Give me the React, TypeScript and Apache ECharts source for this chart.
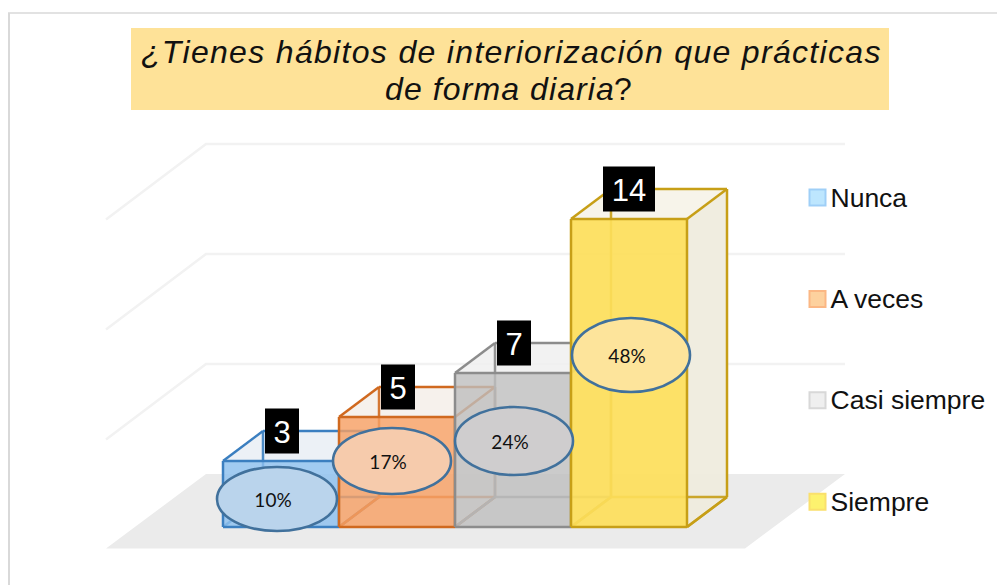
import React, { useEffect, useRef } from "react";
import * as echarts from "echarts";

const categories = ["Nunca", "A veces", "Casi siempre", "Siempre"];
const counts = [3, 5, 7, 14];
const percents = ["10%", "17%", "24%", "48%"];
const yTicks = [0, 5, 10, 15];

const frontFill = ["rgba(140,192,238,0.82)", "rgba(247,160,100,0.82)", "rgba(190,190,190,0.8)", "rgba(253,222,90,0.92)"];
const edge = ["#3b7fc0", "#d0691f", "#8c8c8c", "#c79f17"];
const paleFill = ["rgba(233,239,245,0.85)", "rgba(244,238,233,0.85)", "rgba(240,240,240,0.85)", "rgba(246,243,232,0.92)"];
const sideFill = ["rgba(230,236,242,0.7)", "rgba(240,232,225,0.7)", "rgba(236,236,236,0.7)", "rgba(239,236,222,0.95)"];
const legendFill = ["#bde6fe", "#fdd19e", "#efefef", "#fdf26e"];
const legendEdge = ["#9fcff7", "#fbb784", "#d8d8d8", "#fae06c"];
const ovalFill = ["#bad4ec", "#f6cbac", "#cfcdce", "#fde49b"];

const ovalOffset = [[-4, 38, 60, 32], [-5, 44, 59, 33], [1, 68, 59, 34], [2, 136, 59, 37]];
const DEPTH_X = 40;
const DEPTH_Y = -30;

const renderBar = (idx: number) => (_: any, api: any) => {
  const top = api.coord([api.value(0), api.value(1)]);
  const base = api.coord([api.value(0), 0]);
  const w = api.size([1, 0])[0];
  const x0 = top[0] - w / 2;
  const x1 = top[0] + w / 2;
  const yT = top[1];
  const yB = base[1];
  const dx = DEPTH_X;
  const dy = DEPTH_Y;
  const stroke = edge[idx];
  const seg = (a: number[], b: number[], op = 1) => ({
    type: "line",
    shape: { x1: a[0], y1: a[1], x2: b[0], y2: b[1] },
    style: { stroke, lineWidth: 2.5, opacity: op },
  });
  const poly = (pts: number[][], fill: string) => ({
    type: "polygon",
    shape: { points: pts },
    style: { fill, stroke: "none" },
  });
  return {
    type: "group",
    children: [
      poly([[x0, yT], [x1, yT], [x1 + dx, yT + dy], [x0 + dx, yT + dy]], paleFill[idx]),
      poly([[x1, yT], [x1 + dx, yT + dy], [x1 + dx, yB + dy], [x1, yB]], sideFill[idx]),
      seg([x0 + dx, yT + dy], [x0 + dx, yB + dy], 0.9),
      seg([x0 + dx, yB + dy], [x1 + dx, yB + dy], 0.9),
      seg([x0, yB], [x0 + dx, yB + dy], 0.9),
      seg([x1, yB], [x1 + dx, yB + dy], 0.9),
      poly([[x0, yT], [x1, yT], [x1, yB], [x0, yB]], frontFill[idx]),
      seg([x0, yT], [x0 + dx, yT + dy]),
      seg([x0 + dx, yT + dy], [x1 + dx, yT + dy]),
      seg([x1 + dx, yT + dy], [x1, yT]),
      seg([x1 + dx, yT + dy], [x1 + dx, yB + dy]),
      seg([x1 + dx, yB + dy], [x1, yB]),
      seg([x0, yT], [x1, yT]),
      seg([x1, yT], [x1, yB]),
      seg([x1, yB], [x0, yB]),
      seg([x0, yB], [x0, yT]),
    ],
  };
};

const renderFloor = (_: any, api: any) => {
  const p = api.coord([0, 0]);
  const w = api.size([1, 0])[0];
  const xL = p[0] - w / 2;
  const xR = xL + w * 4;
  return {
    type: "polygon",
    shape: { points: [[xL - 117, p[1] + 21.5], [xR + 58, p[1] + 21.5], [xR + 158, p[1] - 53], [xL - 17, p[1] - 53]] },
    style: { fill: "#ebebeb" },
  };
};

const renderGrid = (_: any, api: any) => {
  const v = api.value(0);
  const p = api.coord([0, v]);
  const w = api.size([1, 0])[0];
  const xL = p[0] - w / 2;
  const xR = xL + w * 4;
  const style = { stroke: "#f2f2f2", lineWidth: 2.5, fill: "none" };
  return {
    type: "polyline",
    shape: { points: [[xL - 117, p[1] + 22.5], [xL - 17, p[1] - 53], [xR + 158, p[1] - 53]] },
    style,
  };
};

const renderLabels = (_: any, api: any) => {
  const idx = api.value(0);
  const top = api.coord([idx, api.value(1)]);
  const [ox, oy, rx, ry] = ovalOffset[idx];
  const cx = top[0] + ox;
  const cy = top[1] + oy;
  const label = String(api.value(1));
  const bw = label.length > 1 ? 52 : 34;
  const bx = top[0] + (label.length > 1 ? 0 : 1);
  return {
    type: "group",
    children: [
      {
        type: "ellipse",
        shape: { cx, cy, rx, ry },
        style: { fill: ovalFill[idx], stroke: "#41719c", lineWidth: 2.6 },
      },
      {
        type: "text",
        style: {
          x: cx - 4,
          y: cy,
          text: percents[idx],
          fill: "#111",
          font: "19px Lato",
          textAlign: "center",
          textVerticalAlign: "middle",
        },
      },
      {
        type: "rect",
        shape: { x: bx - bw / 2, y: top[1] - 52.5, width: bw, height: 45 },
        style: { fill: "#000" },
      },
      {
        type: "text",
        style: {
          x: bx,
          y: top[1] - 29,
          text: label,
          fill: "#fff",
          font: "31px 'Liberation Sans'",
          textAlign: "center",
          textVerticalAlign: "middle",
        },
      },
    ],
  };
};

// The reference title is set with wider tracking than ECharts offers.
const spaceTitle = (root: HTMLElement) => {
  const place = (el: SVGTextElement, spacing: number, left: number) => {
    el.style.letterSpacing = spacing + "px";
    el.removeAttribute("dx");
    const box = el.getBBox();
    const ctm = el.getCTM();
    const current = box.x + (ctm ? ctm.e : 0);
    el.setAttribute("dx", String(left - current));
  };
  root.querySelectorAll("text").forEach((node) => {
    const el = node as SVGTextElement;
    const t = el.textContent || "";
    if (t.startsWith("¿Tienes")) place(el, 1.32, 141);
    else if (t === "de forma diaria") place(el, 1.1, 385);
    else if (t === "?") place(el, 0, 614);
  });
};

export default function App() {
  const ref = useRef<HTMLDivElement>(null);
  useEffect(() => {
    const chart = echarts.init(ref.current!, undefined, { renderer: "svg" });
    chart.setOption({
      animation: false,
      backgroundColor: "#fff",
      title: {
        text: "{i|¿Tienes hábitos de interiorización que prácticas}\n{i|de forma diaria}{n|?}",
        left: 510,
        top: 28,
        textAlign: "center",
        textStyle: {
          fontWeight: "normal",
          textAlign: "center",
          rich: {
            i: { fontFamily: "Liberation Sans", fontStyle: "italic", fontWeight: "normal", fontSize: 32, lineHeight: 37, color: "#111" },
            n: { fontFamily: "Liberation Sans", fontWeight: "normal", fontSize: 32, lineHeight: 37, color: "#111" },
          },
        },
        z: 5,
      },
      graphic: [
        { type: "rect", z: -10, shape: { x: 131, y: 28, width: 758, height: 82 }, style: { fill: "#fee298" } },
        { type: "line", z: -10, shape: { x1: 9, y1: 13, x2: 9, y2: 585 }, style: { stroke: "#d9d9d9", lineWidth: 2 } },
        { type: "line", z: -10, shape: { x1: 8, y1: 13, x2: 997, y2: 13 }, style: { stroke: "#d9d9d9", lineWidth: 1.5 } },
      ],
      legend: {
        orient: "vertical",
        left: 808.5,
        top: 184,
        padding: 0,
        itemWidth: 16,
        itemHeight: 16,
        itemGap: 75.4 - 1,
        selectedMode: false,
        icon: "rect",
        textStyle: { fontFamily: "Liberation Sans", fontSize: 26.5, lineHeight: 26, color: "#111", padding: [0, 0, 0, 0] },
        data: categories.map((name, i) => ({
          name,
          itemStyle: { color: legendFill[i], borderColor: legendEdge[i], borderWidth: 2 },
        })),
      },
      grid: { left: 223, top: 197, width: 464, height: 330 },
      xAxis: { type: "category", data: categories, show: false },
      yAxis: { type: "value", min: 0, max: 15, interval: 5, show: false },
      series: [
        { type: "custom", name: "floor", z: 1, data: [[0]], renderItem: renderFloor, silent: true, encode: { x: 0 } },
        { type: "custom", name: "gridlines", z: 2, data: yTicks.slice(1).map((v) => [v]), renderItem: renderGrid, silent: true, encode: { y: 0 } },
        ...categories.map((name, i) => ({
          type: "custom",
          name,
          z: 3 + i,
          data: [[i, counts[i]]],
          renderItem: renderBar(i),
          silent: true,
          encode: { x: 0, y: 1 },
        })),
        {
          type: "custom",
          name: "labels",
          z: 10,
          data: counts.map((c, i) => [i, c]),
          renderItem: renderLabels,
          silent: true,
          encode: { x: 0, y: 1 },
        },
      ],
    });
    spaceTitle(ref.current!);
    return () => chart.dispose();
  }, []);
  return <div ref={ref} style={{ position: "fixed", left: 0, top: 0, width: 997, height: 585 }} />;
}
